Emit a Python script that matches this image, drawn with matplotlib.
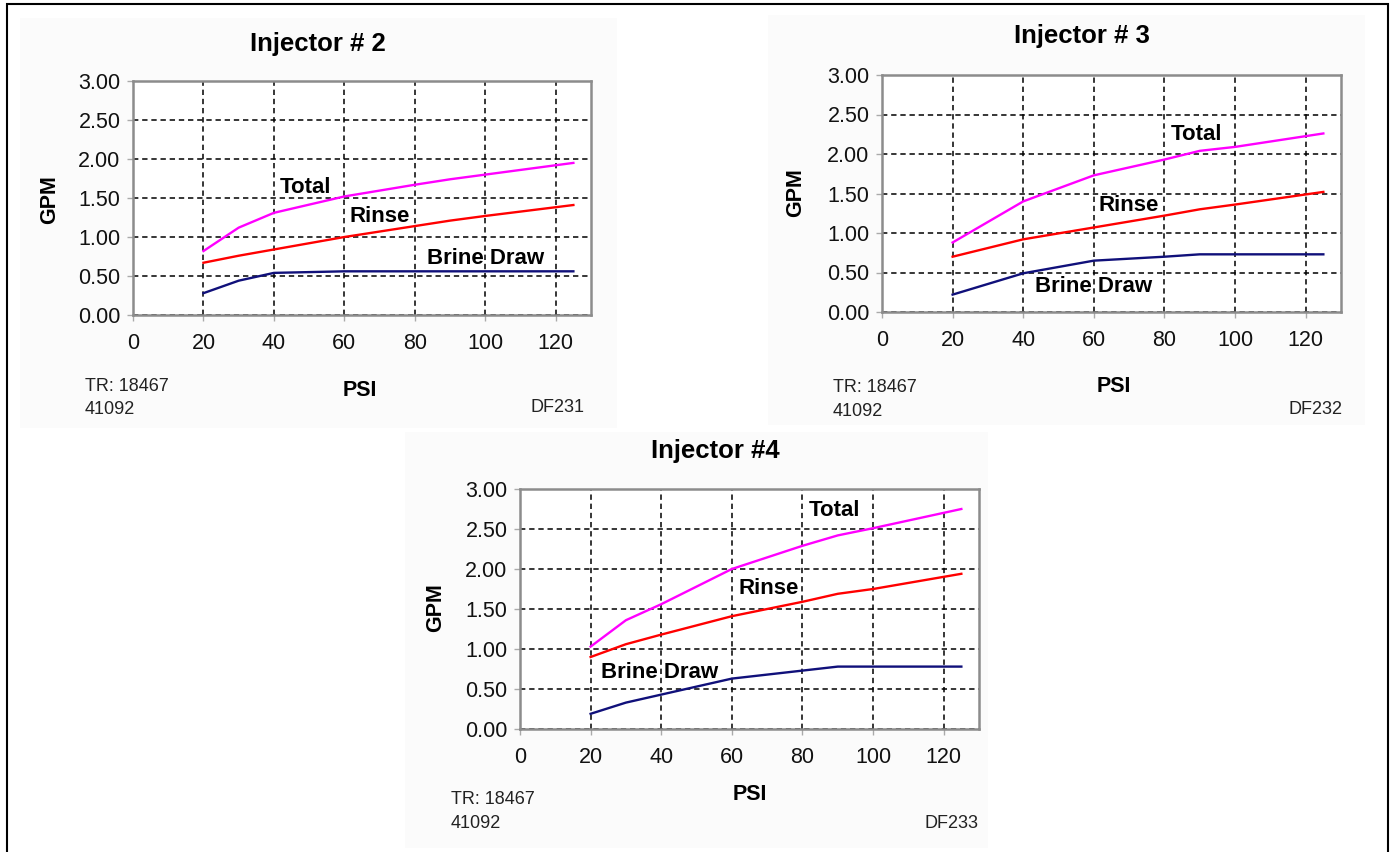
import matplotlib
matplotlib.use("Agg")
import matplotlib.pyplot as plt
from matplotlib.patches import Rectangle

plt.rcParams['font.family'] = ['Liberation Sans', 'DejaVu Sans']

# ---------------- data ----------------
titles = ["Injector # 2", "Injector # 3", "Injector #4"]
codes = ["DF231", "DF232", "DF233"]
series_names = ["Total", "Rinse", "Brine Draw"]
x_ticks = [0, 20, 40, 60, 80, 100, 120]
y_ticks = [0.0, 0.5, 1.0, 1.5, 2.0, 2.5, 3.0]

psi_2 = [20, 30, 40, 60, 80, 90, 100, 125]
total_2 = [0.82, 1.12, 1.31, 1.52, 1.67, 1.74, 1.80, 1.95]
rinse_2 = [0.67, 0.76, 0.84, 1.00, 1.14, 1.21, 1.27, 1.41]
brine_2 = [0.28, 0.44, 0.54, 0.56, 0.56, 0.56, 0.56, 0.56]

psi_3 = [20, 40, 60, 80, 90, 100, 125]
total_3 = [0.88, 1.40, 1.73, 1.93, 2.04, 2.09, 2.26]
rinse_3 = [0.70, 0.92, 1.07, 1.22, 1.30, 1.36, 1.52]
brine_3 = [0.22, 0.49, 0.65, 0.70, 0.73, 0.73, 0.73]

psi_4 = [20, 30, 40, 60, 80, 90, 100, 125]
total_4 = [1.03, 1.36, 1.56, 2.00, 2.29, 2.42, 2.51, 2.75]
rinse_4 = [0.90, 1.06, 1.18, 1.41, 1.59, 1.69, 1.75, 1.94]
brine_4 = [0.19, 0.33, 0.43, 0.63, 0.73, 0.78, 0.78, 0.78]

# ---------------- layout (pixels) ----------------
W, H = 1392, 852
colors = ["#ff00ff", "#ff0000", "#10107a"]

panels = [
    dict(box=(20, 18, 617, 428), ax=(133, 81, 591, 315), psi=psi_2,
         ys=[total_2, rinse_2, brine_2],
         lab=[(49, 1.63), (70, 1.26), (100, 0.72)],
         title=(318, 44), gpm=(50, 200), psix=(360, 390),
         tr=(85, 387, 409), code=(585, 408)),
    dict(box=(768, 15, 1365, 425), ax=(882, 75, 1341, 312), psi=psi_3,
         ys=[total_3, rinse_3, brine_3],
         lab=[(89, 2.25), (70, 1.35), (60, 0.32)],
         title=(1082, 36), gpm=(796, 193), psix=(1114, 386),
         tr=(833, 388, 411), code=(1342, 410)),
    dict(box=(405, 432, 988, 848), ax=(520, 489, 979, 729), psi=psi_4,
         ys=[total_4, rinse_4, brine_4],
         lab=[(89, 2.73), (70.5, 1.75), (39.5, 0.70)],
         title=(715, 451), gpm=(436, 608), psix=(750, 794),
         tr=(451, 800, 823), code=(979, 823)),
]

fig = plt.figure(figsize=(W / 100, H / 100), dpi=100)
fig.patch.set_facecolor("white")

def fx(x):
    return x / W

def fy(y):
    return 1 - y / H

# outer border
fig.add_artist(Rectangle((fx(7), fy(856)), fx(1388) - fx(7), fy(4) - fy(856),
                         transform=fig.transFigure, fill=False,
                         edgecolor="black", linewidth=1.5, zorder=0))

for i, p in enumerate(panels):
    bx0, by0, bx1, by1 = p["box"]
    fig.add_artist(Rectangle((fx(bx0), fy(by1)), fx(bx1) - fx(bx0), fy(by0) - fy(by1),
                             transform=fig.transFigure, facecolor="#fbfbfb",
                             edgecolor="none", zorder=0))
    l, t, r, b = p["ax"]
    ax = fig.add_axes([fx(l), fy(b), fx(r) - fx(l), fy(t) - fy(b)])
    ax.set_facecolor("white")
    for k in range(3):
        ax.plot(p["psi"], p["ys"][k], color=colors[k], linewidth=1.7, zorder=3)
        lx, ly = p["lab"][k]
        ax.text(lx, ly, series_names[k], ha="center", va="center",
                fontsize=16, fontweight="bold", zorder=4)
    ax.set_xlim(0, 130)
    ax.set_ylim(0, 3)
    ax.set_xticks(x_ticks)
    ax.set_yticks(y_ticks)
    ax.set_yticklabels([f"{v:.2f}" for v in y_ticks])
    ax.tick_params(axis="both", labelsize=15.5, color="#aaaaaa", length=4, width=1,
                   labelcolor="#111111")
    ax.tick_params(axis="x", pad=9)
    ax.tick_params(axis="y", pad=5)
    ax.grid(True, color="black", linestyle=(0, (3.5, 2.5)), linewidth=1.1, zorder=1)
    for s in ax.spines.values():
        s.set_color("#8c8c8c")
        s.set_linewidth(1.8)
    fig.text(fx(p["title"][0]), fy(p["title"][1]), titles[i], ha="center",
             va="center", fontsize=18.5, fontweight="bold")
    fig.text(fx(p["gpm"][0]), fy(p["gpm"][1]), "GPM", ha="center", va="center",
             rotation=90, fontsize=15.5, fontweight="bold")
    fig.text(fx(p["psix"][0]), fy(p["psix"][1]), "PSI", ha="center", va="center",
             fontsize=15.5, fontweight="bold")
    fig.text(fx(p["tr"][0]), fy(p["tr"][1]), "TR: 18467", ha="left", va="center",
             fontsize=13, color="#222222")
    fig.text(fx(p["tr"][0]), fy(p["tr"][2]), "41092", ha="left", va="center",
             fontsize=13, color="#222222")
    fig.text(fx(p["code"][0]), fy(p["code"][1]), codes[i], ha="right", va="center",
             fontsize=13, color="#222222")

fig.savefig("out.png", dpi=100)
